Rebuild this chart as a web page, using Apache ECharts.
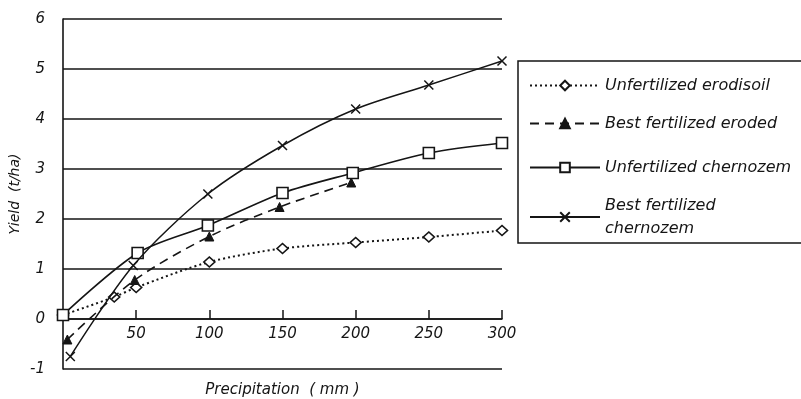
<!DOCTYPE html>
<html>
<head>
<meta charset="utf-8">
<script src="https://cdn.jsdelivr.net/npm/echarts@6/dist/echarts.min.js"></script>
<style>
  html, body { margin: 0; padding: 0; background: #ffffff; }
  #chart { width: 801px; height: 399px; }
</style>
</head>
<body>
<div id="chart"></div>
<script>
// Yield response to precipitation, four soil / fertilizer treatments
const seriesNames = [
  'Unfertilized erodisoil',
  'Best fertilized eroded',
  'Unfertilized chernozem',
  'Best fertilized\nchernozem'
];

// [precipitation (mm), yield (t/ha)]
const erodisoilUnfert = [[0, 0.08], [35, 0.44], [50, 0.63], [100, 1.14], [150, 1.41], [200, 1.53], [250, 1.64], [300, 1.77]];
const erodedBest      = [[3, -0.41], [49, 0.78], [100, 1.65], [148, 2.24], [197, 2.73]];
const chernozemUnfert = [[0, 0.08], [51, 1.32], [99, 1.87], [150, 2.52], [198, 2.92], [250, 3.32], [300, 3.52]];
const chernozemBest   = [[5, -0.75], [48, 1.07], [99, 2.5], [150, 3.47], [200, 4.2], [250, 4.68], [300, 5.16]];

const yTicks = [-1, 0, 1, 2, 3, 4, 5, 6];
const xTicks = [0, 50, 100, 150, 200, 250, 300];

const INK = '#151515';
const FONT = 'DejaVu Sans';

const chart = echarts.init(document.getElementById('chart'), null, { renderer: 'canvas' });

function legendAt(name, top) {
  return {
    data: [name],
    orient: 'vertical',
    left: 529,
    top: top,
    padding: 0,
    itemWidth: 70,
    itemHeight: 12,
    selectedMode: false,
    textStyle: {
      color: INK,
      fontFamily: FONT,
      fontStyle: 'italic',
      fontSize: 16,
      lineHeight: 23
    }
  };
}

const lineCommon = { type: 'line', smooth: 0.3 };

// the precipitation axis sits on the zero-yield line, one unit above the plot floor
const Y_UNIT_PX = 50;

const option = {
  backgroundColor: '#ffffff',
  animation: false,
  grid: { left: 63, right: 299, top: 19, bottom: 30, outerBoundsMode: 'none', containLabel: false },
  legend: [
    legendAt(seriesNames[0], 74),
    legendAt(seriesNames[1], 112),
    legendAt(seriesNames[2], 156),
    legendAt(seriesNames[3], 194)
  ],
  graphic: [{
    type: 'rect',
    shape: { x: 518, y: 61, width: 300, height: 182 },
    style: { fill: 'none', stroke: INK, lineWidth: 1.5 },
    silent: true
  }],
  xAxis: {
    type: 'value',
    min: xTicks[0],
    max: xTicks[xTicks.length - 1],
    interval: 50,
    offset: -Y_UNIT_PX,
    name: 'Precipitation  ( mm )',
    nameLocation: 'middle',
    nameGap: 64,
    nameMoveOverlap: false,
    nameTextStyle: { color: INK, fontFamily: FONT, fontStyle: 'italic', fontSize: 15 },
    axisLine: { onZero: false, lineStyle: { color: INK, width: 1.6 } },
    axisTick: { show: true, inside: true, length: 9, lineStyle: { color: INK, width: 1.5 } },
    axisLabel: {
      showMinLabel: false,
      margin: 8,
      color: INK,
      fontFamily: FONT,
      fontStyle: 'italic',
      fontSize: 15
    },
    splitLine: { show: false }
  },
  yAxis: {
    type: 'value',
    min: yTicks[0],
    max: yTicks[yTicks.length - 1],
    interval: 1,
    name: 'Yield  (t/ha)',
    nameLocation: 'middle',
    nameGap: 41,
    nameMoveOverlap: false,
    nameTextStyle: { color: INK, fontFamily: FONT, fontStyle: 'italic', fontSize: 14 },
    axisLine: { show: true, onZero: false, lineStyle: { color: INK, width: 1.6 } },
    axisTick: { show: false },
    axisLabel: {
      margin: 18,
      color: INK,
      fontFamily: FONT,
      fontStyle: 'italic',
      fontSize: 15
    },
    splitLine: { show: true, lineStyle: { color: INK, width: 1.5 } }
  },
  series: [
    Object.assign({}, lineCommon, {
      name: seriesNames[0],
      data: erodisoilUnfert,
      symbol: 'diamond',
      symbolSize: [11, 10],
      showAllSymbol: true,
      lineStyle: { color: INK, width: 2, type: [2, 3] },
      itemStyle: { color: '#ffffff', borderColor: INK, borderWidth: 1.6 },
      z: 3
    }),
    Object.assign({}, lineCommon, {
      name: seriesNames[1],
      data: erodedBest,
      symbol: 'triangle',
      symbolSize: 9,
      lineStyle: { color: INK, width: 1.6, type: [9, 6] },
      itemStyle: { color: INK, borderColor: INK, borderWidth: 1 },
      z: 4
    }),
    Object.assign({}, lineCommon, {
      name: seriesNames[2],
      data: chernozemUnfert,
      symbol: 'rect',
      symbolSize: 11,
      lineStyle: { color: INK, width: 1.7 },
      itemStyle: { color: '#ffffff', borderColor: INK, borderWidth: 1.6 },
      z: 5
    }),
    Object.assign({}, lineCommon, {
      name: seriesNames[3],
      data: chernozemBest,
      symbol: 'path://M0,0L10,10M0,10L10,0',
      symbolSize: 9,
      lineStyle: { color: INK, width: 1.5 },
      itemStyle: { color: INK, borderColor: INK, borderWidth: 1.5 },
      z: 6
    })
  ]
};

chart.setOption(option);
</script>
</body>
</html>
